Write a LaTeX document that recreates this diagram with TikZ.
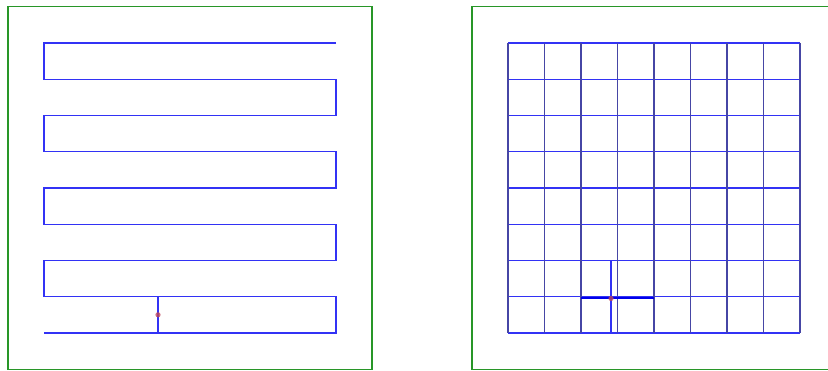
\documentclass[tikz,border=0pt]{standalone}
\begin{document}
\begin{tikzpicture}[x=1pt,y=-1pt,
  frame/.style={draw={rgb,255:red,40;green,150;blue,40}, line width=1.5pt},
  pathline/.style={draw={rgb,255:red,50;green,50;blue,245}, line width=1.3pt},
  gridv/.style={draw={rgb,255:red,70;green,70;blue,165}, line width=1.3pt},
  gridh/.style={draw={rgb,255:red,50;green,50;blue,245}, line width=1.3pt},
  boldpath/.style={draw={rgb,255:red,0;green,0;blue,235}, line width=2.4pt},
  dot/.style={fill={rgb,255:red,190;green,70;blue,90}, fill opacity=0.8}]
\useasboundingbox (0,0) rectangle (828,371);
\clip (0,0) rectangle (828,371);
% frames
\draw[frame] (8,6.5) rectangle (372,369.5);
\draw[frame] (472,6.5) rectangle (836,369.5);
% left zigzag
\draw[pathline] (336,43) -- (44,43) -- (44,79.25) -- (336,79.25) -- (336,115.5)
  -- (44,115.5) -- (44,151.75) -- (336,151.75) -- (336,188) -- (44,188)
  -- (44,224.25) -- (336,224.25) -- (336,260.5) -- (44,260.5) -- (44,296.75)
  -- (336,296.75) -- (336,333) -- (44,333);
\draw[pathline] (158,296.75) -- (158,333);
\fill[dot] (158,314.8) circle (2.6);
% right grid
\foreach \i in {0,...,8} {
  \draw[gridh] (508,43+36.25*\i) -- (800,43+36.25*\i);
}
\foreach \i in {0,...,8} {
  \draw[gridv] (508+36.5*\i,43) -- (508+36.5*\i,333);
}
\draw[pathline] (611,260.5) -- (611,333);
\draw[boldpath] (581,298) -- (654,298);
\fill[dot] (611,298.5) circle (2.6);
\end{tikzpicture}
\end{document}
